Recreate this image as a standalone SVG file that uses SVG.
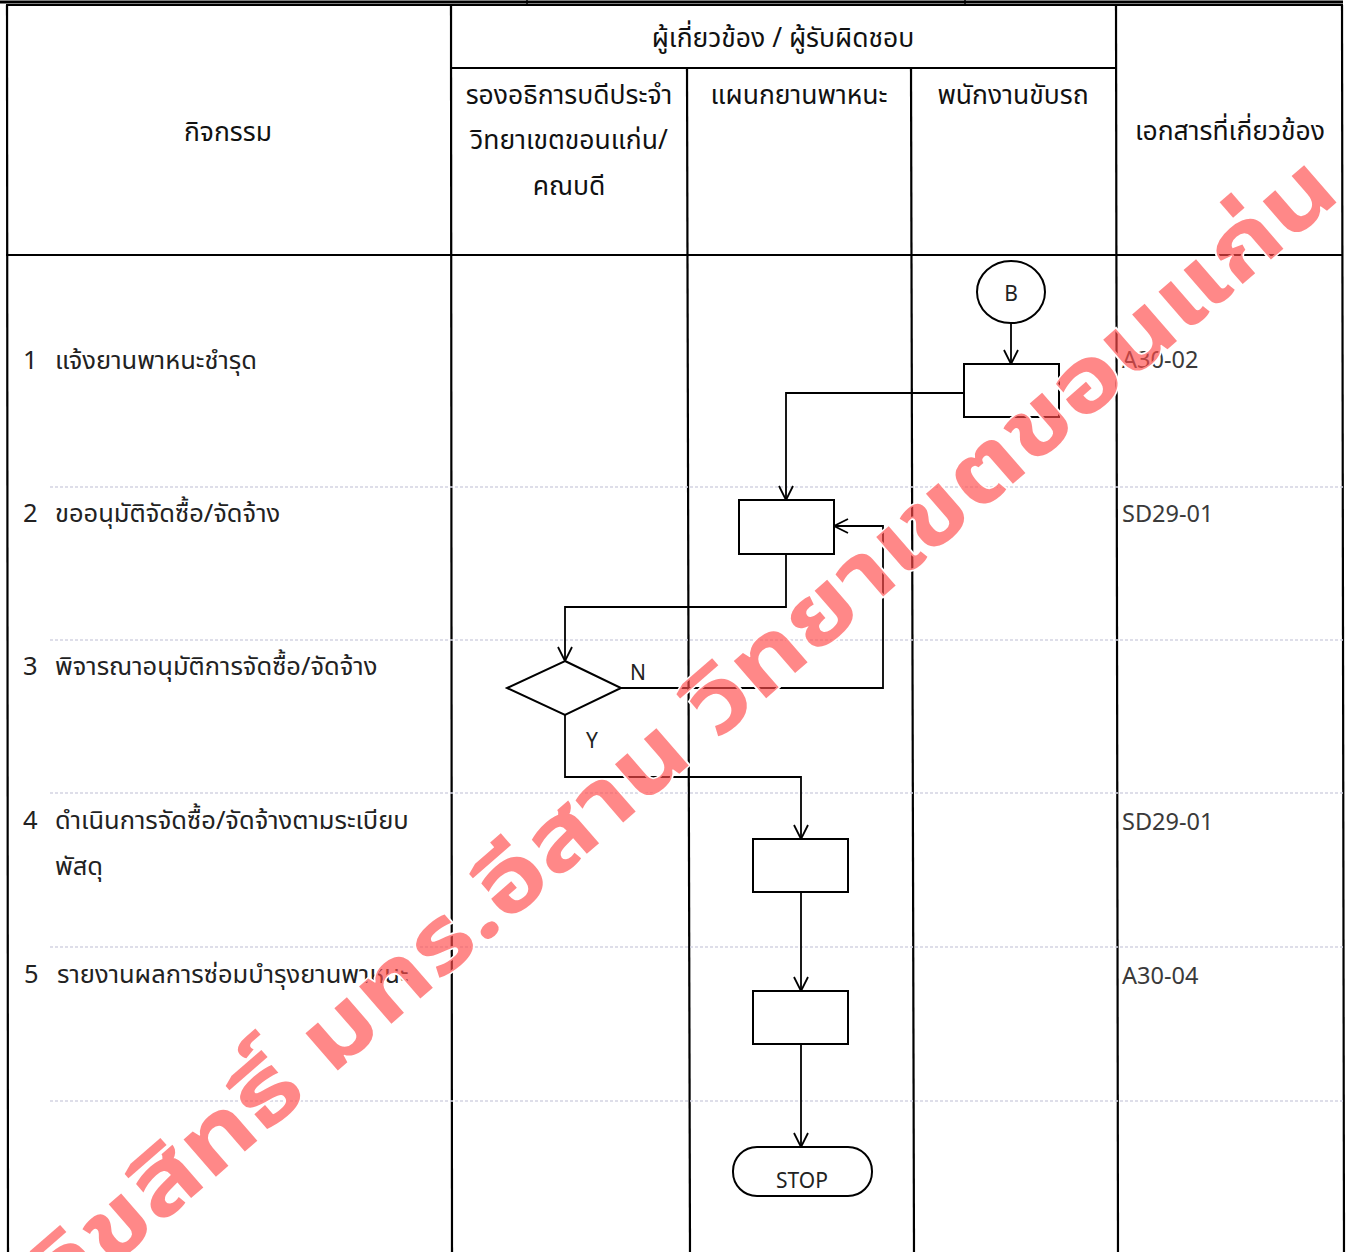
<svg xmlns="http://www.w3.org/2000/svg" width="1354" height="1252" viewBox="0 0 1354 1252">
<defs>
<marker id="arr" markerWidth="20" markerHeight="20" refX="15" refY="8" orient="auto" markerUnits="userSpaceOnUse" viewBox="0 0 20 16">
<path d="M1,1 L15,8 L1,15" fill="none" stroke="#000" stroke-width="1.8"/>
</marker>
<style>
.grid{stroke:#000;stroke-width:2.2;fill:none}
.thin{stroke:#d4d4e2;stroke-width:1.6;stroke-dasharray:3 2;fill:none}
.hd{font-family:"Noto Sans Thai","Loma","Garuda","Tahoma","DejaVu Sans",sans-serif;font-size:26.5px;fill:#111;text-anchor:middle}
.act{font-family:"Noto Sans Thai","Loma","Garuda","Tahoma","DejaVu Sans",sans-serif;font-size:25.5px;fill:#222}
.doc{font-family:"Noto Sans","Open Sans","DejaVu Sans",sans-serif;font-size:23.5px;fill:#3a3a3a}
.lbl{font-family:"Noto Sans","Open Sans","DejaVu Sans",sans-serif;font-size:21px;fill:#222}
.shape{fill:#fff;stroke:#000;stroke-width:2}
.conn{fill:none;stroke:#000;stroke-width:1.8}
.wm{font-family:"Noto Sans Thai","Loma","Garuda","Tahoma","DejaVu Sans",sans-serif;font-weight:bold;font-size:90px;fill:#ff4a4a;fill-opacity:0.66;stroke:#fff;stroke-width:3;paint-order:stroke}
</style>
</defs>
<rect width="1354" height="1252" fill="#fff"/>

<g id="table">
<line x1="0" y1="2" x2="1343" y2="2" stroke="#000" stroke-width="3"/>
<line x1="527" y1="0" x2="527" y2="4" stroke="#000" stroke-width="1.5"/>
<line x1="965" y1="0" x2="965" y2="4" stroke="#000" stroke-width="1.5"/>
<line class="grid" x1="6" y1="5" x2="1343" y2="5"/>
<line class="grid" x1="451" y1="68" x2="1116" y2="68"/>
<line class="grid" x1="6" y1="255" x2="1343" y2="255"/>
<line class="grid" x1="7" y1="5" x2="8" y2="1252"/>
<line class="grid" x1="451" y1="5" x2="452" y2="1252"/>
<line class="grid" x1="687" y1="68" x2="690" y2="1252"/>
<line class="grid" x1="911" y1="68" x2="914" y2="1252"/>
<line class="grid" x1="1116" y1="5" x2="1118" y2="1252"/>
<line class="grid" x1="1342" y1="5" x2="1344" y2="1252"/>
<line class="thin" x1="50" y1="487" x2="1343" y2="487"/>
<line class="thin" x1="50" y1="640" x2="1343" y2="640"/>
<line class="thin" x1="50" y1="793" x2="1343" y2="793"/>
<line class="thin" x1="50" y1="947" x2="1343" y2="947"/>
<line class="thin" x1="50" y1="1101" x2="1343" y2="1101"/>
</g>

<g id="headers">
<text class="hd" x="783" y="47">ผู้เกี่ยวข้อง / ผู้รับผิดชอบ</text>
<text class="hd" x="228" y="141">กิจกรรม</text>
<text class="hd" x="569" y="104">รองอธิการบดีประจำ</text>
<text class="hd" x="569" y="149">วิทยาเขตขอนแก่น/</text>
<text class="hd" x="569" y="195">คณบดี</text>
<text class="hd" x="799" y="104">แผนกยานพาหนะ</text>
<text class="hd" x="1013" y="104">พนักงานขับรถ</text>
<text class="hd" x="1230" y="140">เอกสารที่เกี่ยวข้อง</text>
</g>

<g id="activities">
<text class="act" x="23" y="369">1</text><text class="act" x="55" y="369">แจ้งยานพาหนะชำรุด</text>
<text class="act" x="23" y="522">2</text><text class="act" x="55" y="522">ขออนุมัติจัดซื้อ/จัดจ้าง</text>
<text class="act" x="23" y="675">3</text><text class="act" x="55" y="675">พิจารณาอนุมัติการจัดซื้อ/จัดจ้าง</text>
<text class="act" x="23" y="829">4</text><text class="act" x="55" y="829">ดำเนินการจัดซื้อ/จัดจ้างตามระเบียบ</text>
<text class="act" x="55" y="875">พัสดุ</text>
<text class="act" x="24" y="983">5</text><text class="act" x="57" y="983">รายงานผลการซ่อมบำรุงยานพาหนะ</text>
</g>

<g id="documents">
<text class="doc" x="1122" y="368">A30-02</text>
<text class="doc" x="1122" y="522">SD29-01</text>
<text class="doc" x="1122" y="830">SD29-01</text>
<text class="doc" x="1122" y="984">A30-04</text>
</g>

<g id="connectors">
<line class="conn" x1="1011" y1="323" x2="1011" y2="364" marker-end="url(#arr)"/>
<polyline class="conn" points="964,393 786,393 786,500" marker-end="url(#arr)"/>
<polyline class="conn" points="786,554 786,607 565,607 565,661" marker-end="url(#arr)"/>
<polyline class="conn" points="621,688 883,688 883,526 834,526" marker-end="url(#arr)"/>
<polyline class="conn" points="565,715 565,777 801,777 801,839" marker-end="url(#arr)"/>
<line class="conn" x1="801" y1="892" x2="801" y2="991" marker-end="url(#arr)"/>
<line class="conn" x1="801" y1="1044" x2="801" y2="1147" marker-end="url(#arr)"/>
<text class="lbl" x="630" y="680">N</text>
<text class="lbl" x="586" y="748">Y</text>
</g>

<g id="nodeB"><ellipse class="shape" cx="1011" cy="292" rx="34" ry="31"/><text class="lbl" x="1011" y="301" text-anchor="middle" font-size="24">B</text></g>
<g id="step1"><rect class="shape" x="964" y="364" width="95" height="53"/></g>
<g id="step2"><rect class="shape" x="739" y="500" width="95" height="54"/></g>
<g id="decision"><polygon class="shape" points="565,661 621,688 565,715 507,688"/></g>
<g id="step4"><rect class="shape" x="753" y="839" width="95" height="53"/></g>
<g id="step5"><rect class="shape" x="753" y="991" width="95" height="53"/></g>
<g id="stop"><rect class="shape" x="733" y="1147" width="139" height="49" rx="24" ry="24"/><text class="lbl" x="802" y="1188" text-anchor="middle" font-size="20">STOP</text></g>

<g id="watermark">
<text class="wm" transform="translate(60,1312) rotate(-41)" x="0" y="0" textLength="1700" lengthAdjust="spacingAndGlyphs">ลิขสิทธิ์ มทร.อีสาน วิทยาเขตขอนแก่น</text>
</g>
</svg>
